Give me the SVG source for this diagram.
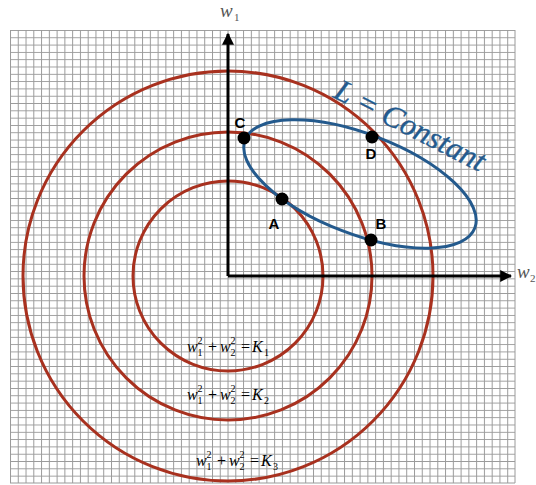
<svg xmlns="http://www.w3.org/2000/svg" width="536" height="485" viewBox="0 0 536 485">
<style>
.circ{fill:none;stroke:#a8311f;stroke-width:3}
.ell{fill:none;stroke:#245a8d;stroke-width:3}
.axis{stroke:#000;stroke-width:3;fill:none}
.dot{fill:#000}
.lbl{font-family:"Liberation Sans",Arial,sans-serif;font-weight:bold;font-size:15px;fill:#000;text-anchor:middle}
.m{font-family:"Liberation Serif","Times New Roman",serif;font-style:italic;font-size:16px;fill:#000}
.u{font-family:"Liberation Serif","Times New Roman",serif;font-size:16px;fill:#000}
.s{font-family:"Liberation Serif","Times New Roman",serif;font-size:10px;fill:#000}
.ax{font-family:"Liberation Serif","Times New Roman",serif;font-style:italic;font-size:19px;fill:#555}
.axs{font-family:"Liberation Serif","Times New Roman",serif;font-size:11px;fill:#555}
</style>
<defs>
<pattern id="grid" patternUnits="userSpaceOnUse" x="10" y="30" width="7.769" height="7.306">
<path d="M0.5 0V7.306M0 0.5H7.769" stroke="#9a9a9a" stroke-width="1" fill="none"/>
</pattern>
<marker id="arr" viewBox="0 0 10 10" refX="9" refY="5" markerWidth="4" markerHeight="4" orient="auto" markerUnits="strokeWidth">
<path d="M0 0L10 5L0 10Z" fill="#000"/>
</marker>
</defs>
<rect width="536" height="485" fill="#fff"/>
<g id="grid-bg">
<rect x="10" y="30" width="505" height="453" fill="url(#grid)"/>
<path d="M515 30V483M10 483H515" stroke="#9a9a9a" stroke-width="1"/>
</g>
<g id="circles">
<circle id="k3" class="circ" cx="228" cy="276" r="205"/>
<circle id="k2" class="circ" cx="228" cy="276" r="144"/>
<circle id="k1" class="circ" cx="228" cy="276" r="95"/>
</g>
<g id="constraint">
<ellipse class="ell" cx="360" cy="184" rx="123" ry="50" transform="rotate(21 360 184)"/>
<text transform="translate(332,97) rotate(27)" font-family="'Liberation Serif','Times New Roman',serif" font-style="italic" font-size="31" fill="#245a8d" stroke="#245a8d" stroke-width="0.4">L = Constant</text>
</g>
<g id="connectors">
<path class="axis" d="M228 276V34" marker-end="url(#arr)"/>
<path class="axis" d="M228 276H511" marker-end="url(#arr)"/>
</g>
<g id="axis-labels">
<text class="ax" x="220" y="17">w</text><text class="axs" x="234" y="21">1</text>
<text class="ax" x="517" y="278">w</text><text class="axs" x="530" y="282">2</text>
</g>
<g id="pointC"><circle class="dot" cx="244" cy="138" r="6.5"/><text class="lbl" x="240" y="128">C</text></g>
<g id="pointD"><circle class="dot" cx="372" cy="137" r="6.5"/><text class="lbl" x="371" y="159">D</text></g>
<g id="pointA"><circle class="dot" cx="282" cy="199" r="6.5"/><text class="lbl" x="274" y="229">A</text></g>
<g id="pointB"><circle class="dot" cx="371" cy="240" r="6.5"/><text class="lbl" x="381" y="229">B</text></g>
<g id="eq1" transform="translate(187,352)">
<text class="m" x="0" y="0">w</text><text class="s" x="10.5" y="-8">2</text><text class="s" x="10.5" y="4">1</text>
<text class="u" x="21" y="0">+</text>
<text class="m" x="33" y="0">w</text><text class="s" x="43.5" y="-8">2</text><text class="s" x="43.5" y="4">2</text>
<text class="u" x="54" y="0">=</text>
<text class="m" x="65" y="0">K</text><text class="s" x="77" y="4">1</text>
</g>
<g id="eq2" transform="translate(187,400)">
<text class="m" x="0" y="0">w</text><text class="s" x="10.5" y="-8">2</text><text class="s" x="10.5" y="4">1</text>
<text class="u" x="21" y="0">+</text>
<text class="m" x="33" y="0">w</text><text class="s" x="43.5" y="-8">2</text><text class="s" x="43.5" y="4">2</text>
<text class="u" x="54" y="0">=</text>
<text class="m" x="65" y="0">K</text><text class="s" x="77" y="4">2</text>
</g>
<g id="eq3" transform="translate(196,466)">
<text class="m" x="0" y="0">w</text><text class="s" x="10.5" y="-8">2</text><text class="s" x="10.5" y="4">1</text>
<text class="u" x="21" y="0">+</text>
<text class="m" x="33" y="0">w</text><text class="s" x="43.5" y="-8">2</text><text class="s" x="43.5" y="4">2</text>
<text class="u" x="54" y="0">=</text>
<text class="m" x="65" y="0">K</text><text class="s" x="77" y="4">3</text>
</g>
</svg>
